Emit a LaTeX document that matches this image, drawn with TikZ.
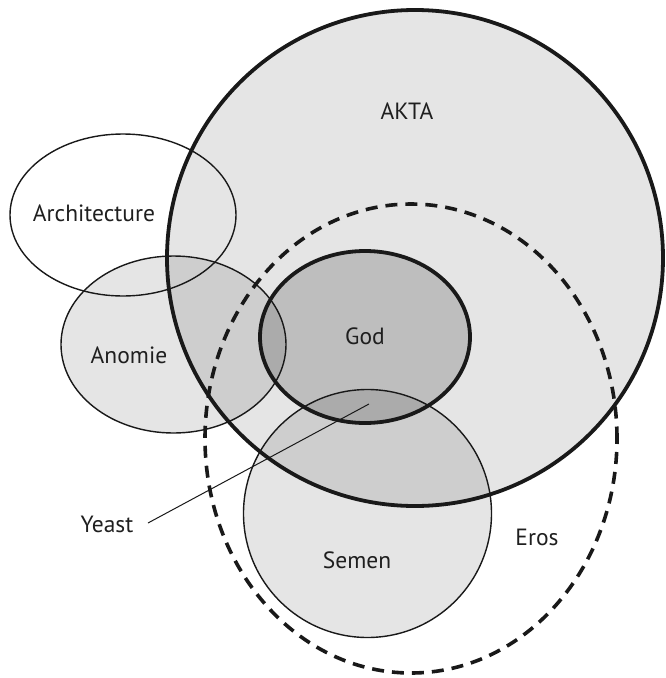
\documentclass[tikz,border=0pt]{standalone}
\usepackage{fontspec}
\setmainfont{PT Sans}
\begin{document}
\begin{tikzpicture}[x=1pt,y=-1pt,
  thinline/.style={line width=1.4pt, draw=black!90},
  thickline/.style={line width=3.8pt, draw=black!90},
  dashline/.style={line width=3.6pt, draw=black!90, dash pattern=on 12pt off 8pt},
  lightfill/.style={fill=black, fill opacity=0.1},
  godfill/.style={fill=black, fill opacity=0.167},
  lab/.style={font=\fontsize{23.5}{27}\selectfont, text=black!88, inner sep=0pt}]
\useasboundingbox (0,0) rectangle (665,678);
% fills
\fill[lightfill] (415,258) circle [radius=248pt];
\fill[lightfill] (173.5,344.5) ellipse [x radius=112.5pt, y radius=88.5pt];
\fill[godfill] (365,337) ellipse [x radius=105pt, y radius=86pt];
\fill[lightfill] (367.5,513.5) circle [radius=124pt];
% outlines
\draw[thinline] (123,215) ellipse [x radius=113pt, y radius=81pt];
\draw[thinline] (173.5,344.5) ellipse [x radius=112.5pt, y radius=88.5pt];
\draw[thinline] (367.5,513.5) circle [radius=124pt];
\draw[dashline] (411,438.5) ellipse [x radius=206pt, y radius=234.5pt];
\draw[thickline] (415,258) circle [radius=248pt];
\draw[thickline] (365,337) ellipse [x radius=105pt, y radius=86pt];
% labels
\node[lab] (akta) at (407,111) {AKTA};
\node[lab] (arch) at (94,213) {Architecture};
\node[lab] (anomie) at (129,355) {Anomie};
\node[lab] (god) at (365,336) {God};
\node[lab] (semen) at (357,560) {Semen};
\node[lab] (eros) at (537,537) {Eros};
\node[lab] (yeast) at (107,524) {Yeast};
\coordinate (ystart) at (148,523);
\coordinate (yend) at (369,404);
\draw[line width=1pt, draw=black!90] (ystart) -- (yend);
\end{tikzpicture}
\end{document}
